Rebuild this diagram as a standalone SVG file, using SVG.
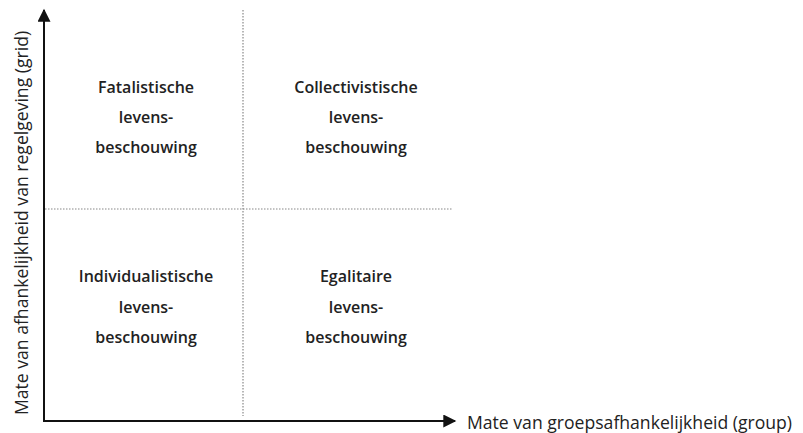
<svg xmlns="http://www.w3.org/2000/svg" width="803" height="433" viewBox="0 0 803 433">
  <style>
    .axis { stroke: #111; stroke-width: 2; fill: none; }
    .grid { stroke: #888; stroke-width: 1.2; stroke-dasharray: 1.5 1.5; fill: none; }
    .lbl { font-family: "Open Sans", "Noto Sans", sans-serif; font-size: 17.6px; fill: #222; }
    .q { font-family: "Open Sans", "Noto Sans", sans-serif; font-size: 16px; font-weight: 600; fill: #222; text-anchor: middle; }
  </style>
  <defs>
    <marker id="arrow" viewBox="0 0 10 10" refX="9" refY="5" markerWidth="9" markerHeight="6.5" markerUnits="strokeWidth" orient="auto">
      <path d="M0,0 L10,5 L0,10 z" fill="#111"/>
    </marker>
  </defs>
  <rect width="803" height="433" fill="#fff"/>

  <!-- quadrant dividers -->
  <g id="dividers">
    <line class="grid" x1="243" y1="10" x2="243" y2="416"/>
    <line class="grid" x1="45" y1="209" x2="453" y2="209"/>
  </g>

  <!-- axes -->
  <g id="connectors">
    <line class="axis" x1="44" y1="422" x2="44" y2="10" marker-end="url(#arrow)"/>
    <line class="axis" x1="43" y1="421" x2="455" y2="421" marker-end="url(#arrow)"/>
  </g>

  <g id="axis-x-label">
    <text class="lbl" x="467" y="428.5">Mate van groepsafhankelijkheid (group)</text>
  </g>
  <g id="axis-y-label">
    <text class="lbl" transform="translate(28,223) rotate(-90)" text-anchor="middle">Mate van afhankelijkheid van regelgeving (grid)</text>
  </g>

  <g id="fatalistisch">
    <text class="q" x="146" y="93">Fatalistische</text>
    <text class="q" x="146" y="123">levens-</text>
    <text class="q" x="146" y="153">beschouwing</text>
  </g>
  <g id="collectivistisch">
    <text class="q" x="356" y="93">Collectivistische</text>
    <text class="q" x="356" y="123">levens-</text>
    <text class="q" x="356" y="153">beschouwing</text>
  </g>
  <g id="individualistisch">
    <text class="q" x="146" y="282">Individualistische</text>
    <text class="q" x="146" y="313">levens-</text>
    <text class="q" x="146" y="343">beschouwing</text>
  </g>
  <g id="egalitair">
    <text class="q" x="356" y="282">Egalitaire</text>
    <text class="q" x="356" y="313">levens-</text>
    <text class="q" x="356" y="343">beschouwing</text>
  </g>
</svg>
